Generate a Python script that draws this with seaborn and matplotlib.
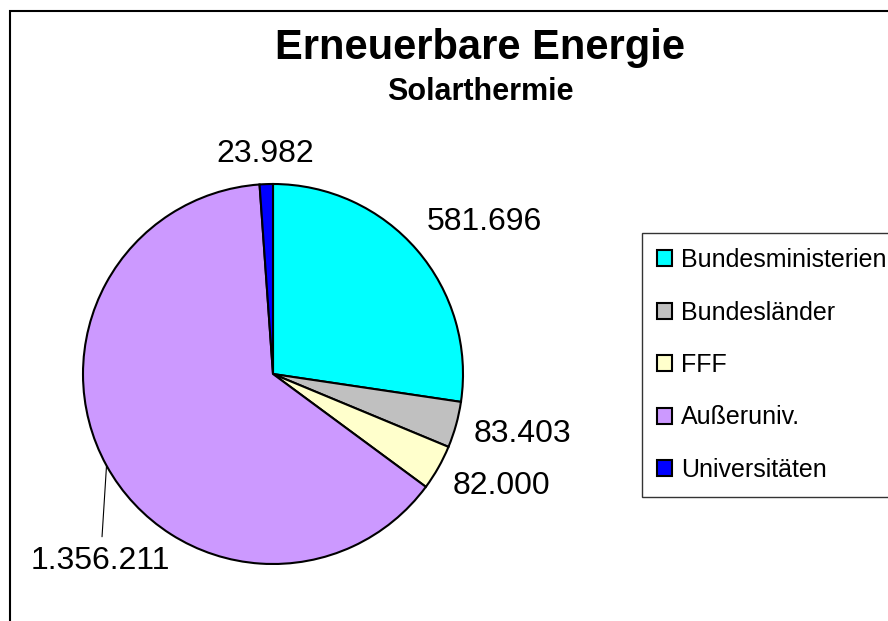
import numpy as np
import matplotlib
matplotlib.use("Agg")
import matplotlib.pyplot as plt
from matplotlib.patches import Rectangle
import seaborn as sns

categories = ["Bundesministerien", "Bundesländer", "FFF", "Außeruniv.", "Universitäten"]
values = [581696, 83403, 82000, 1356211, 23982]
value_labels = ["581.696", "83.403", "82.000", "1.356.211", "23.982"]
colors = ["#00FFFF", "#C0C0C0", "#FFFFCC", "#CC99FF", "#0000FF"]
title = "Erneuerbare Energie"
subtitle = "Solarthermie"

sns.set_theme(style="white")
plt.rcParams["font.family"] = ["Liberation Sans", "DejaVu Sans"]
plt.rcParams["text.color"] = "black"

W, H = 888, 621
fig = plt.figure(figsize=(W / 100, H / 100), dpi=100)
fig.patch.set_facecolor("white")

# outer chart border (extends beyond right/bottom edges)
fig.patches.append(Rectangle((10 / W, -0.1), 1.2, 1 - 11 / H + 0.1,
                             transform=fig.transFigure, fill=False,
                             edgecolor="black", linewidth=1.5, zorder=0))

cx, cy, r = 273, 374, 190
ax = fig.add_axes([(cx - r) / W, (H - cy - r) / H, 2 * r / W, 2 * r / H])
wedges, _ = ax.pie(values, colors=colors, startangle=90, counterclock=False,
                   radius=1.0,
                   wedgeprops=dict(edgecolor="black", linewidth=1.5))
ax.set_xlim(-1, 1)
ax.set_ylim(-1, 1)
ax.set_aspect("equal")
ax.axis("off")

# label distances (layout) per wedge, angle tweak in degrees
label_dist = [1.37, 1.35, 1.34, None, 1.16]
angle_tweak = [-5, 2, 3.5, 0, 0]
for i, w in enumerate(wedges):
    mid = np.deg2rad((w.theta1 + w.theta2) / 2)
    if label_dist[i] is None:
        px, py = np.cos(mid), np.sin(mid)
        ax.annotate(value_labels[i], xy=(px, py), xycoords="data",
                    xytext=(-6, -95), textcoords="offset pixels",
                    ha="center", va="center", fontsize=23, color="black",
                    arrowprops=dict(arrowstyle="-", color="black", lw=0.8,
                                    shrinkA=4, shrinkB=0))
    else:
        a = mid + np.deg2rad(angle_tweak[i])
        d = label_dist[i]
        ax.text(d * np.cos(a), d * np.sin(a), value_labels[i], ha="center",
                va="center", fontsize=23, color="black")

fig.text(480 / W, 1 - 48 / H, title, ha="center", va="center",
         fontsize=30, fontweight="bold", color="black")
fig.text(480 / W, 1 - 92 / H, subtitle, ha="center", va="center",
         fontsize=22, fontweight="bold", color="black")

leg = fig.legend(wedges, categories, loc="upper left",
                 bbox_to_anchor=(642 / W, 1 - 233 / H),
                 bbox_transform=fig.transFigure,
                 fontsize=18, frameon=True, fancybox=False, shadow=False,
                 handlelength=0.6, handleheight=0.6, handletextpad=0.35,
                 labelspacing=1.14, borderpad=0.6, borderaxespad=0,
                 labelcolor="black")
leg.get_frame().set_edgecolor("black")
leg.get_frame().set_linewidth(1.0)
leg.get_frame().set_facecolor("white")

fig.savefig("out.png", dpi=100, facecolor="white")
